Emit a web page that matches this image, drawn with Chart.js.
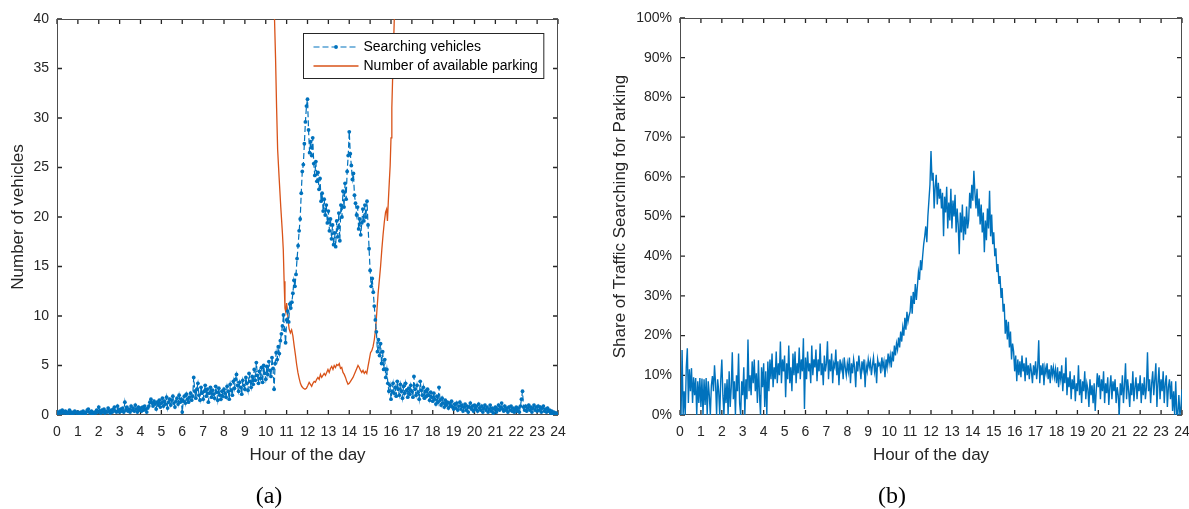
<!DOCTYPE html>
<html>
<head>
<meta charset="utf-8">
<script src="https://cdn.jsdelivr.net/npm/chart.js@4/dist/chart.umd.min.js"></script>
<style>
  html, body { margin: 0; padding: 0; background: #fff; width: 1189px; height: 509px; overflow: hidden; position: relative; }
  canvas { position: absolute; top: 0; }
  #left { left: 0; }
  #right { left: 594px; }
  .cap { position: absolute; width: 80px; text-align: center; font-family: "Liberation Serif", "Times New Roman", serif;
         font-size: 24px; line-height: 28px; color: #000; top: 481px; }
</style>
</head>
<body>
<canvas id="left" width="594" height="509"></canvas>
<canvas id="right" width="610" height="509"></canvas>
<div class="cap" style="left:229px">(a)</div>
<div class="cap" style="left:852px">(b)</div>
<script>
// Samples are taken every 3 minutes over one day (0 h .. 24 h).
const SAMPLE_STEP = 0.05;

const hourTicks = [0,1,2,3,4,5,6,7,8,9,10,11,12,13,14,15,16,17,18,19,20,21,22,23,24];
const vehicleTicks = [0,5,10,15,20,25,30,35,40];
const shareTicks = [0,10,20,30,40,50,60,70,80,90,100];

// Vehicles cruising for a parking space, one value per sample.
const searchingVehicles = [
  0.1,0.3,0.2,0.4,0.2,0.5,0.3,0.2,0.4,0.3,0.1,0.3,0.5,0.2,0.3,0.1,0.2,0.4,0.3,0.2,
  0.3,0.2,0.1,0.3,0.2,0.4,0.2,0.1,0.3,0.5,0.6,0.3,0.2,0.4,0.1,0.2,0.3,0.2,0.5,0.3,
  0.8,0.4,0.2,0.5,0.3,0.6,0.2,0.4,0.3,0.7,0.4,0.2,0.5,0.3,0.6,0.8,0.4,0.3,0.9,0.5,
  0.3,0.6,0.4,0.7,0.3,1.3,0.5,0.8,0.4,0.6,0.3,0.9,0.5,0.7,0.4,1.0,0.6,0.3,0.8,0.5,
  0.7,0.4,0.8,0.5,0.9,0.6,0.3,0.7,0.9,1.3,1.6,1.2,0.9,1.4,1.1,0.6,1.3,1.0,1.5,0.8,
  1.2,1.7,0.9,1.4,1.1,1.8,0.7,1.3,1.6,1.0,1.5,1.9,1.2,0.8,1.4,1.7,1.1,2.0,1.3,1.6,
  0.3,1.4,1.9,1.2,2.1,1.6,1.3,1.8,2.2,1.5,1.9,3.8,2.4,1.7,2.6,3.2,2.0,1.5,2.8,2.2,
  1.6,2.4,3.0,1.9,2.6,1.3,2.2,2.8,1.8,2.5,2.1,1.7,2.9,2.3,1.5,2.7,2.0,1.6,2.4,1.9,
  2.6,2.2,1.8,2.9,2.4,1.6,3.1,2.5,2.0,3.4,2.7,3.6,4.1,3.0,2.4,3.3,2.8,2.1,3.5,3.0,
  2.6,3.8,3.2,2.5,4.2,3.4,2.8,3.9,3.1,4.6,3.5,5.3,4.0,3.2,4.4,3.7,4.8,3.3,5.0,4.2,
  3.6,4.9,4.1,5.4,4.5,3.9,5.8,4.7,2.6,5.2,6.3,5.6,6.9,6.2,7.5,8.2,9.0,10.1,8.6,7.3,
  9.6,10.5,9.4,11.2,10.8,11.4,12.3,13.6,13.0,14.2,15.8,17.1,18.6,19.8,22.4,24.6,25.3,27.4,29.6,31.2,
  31.9,28.8,26.5,27.6,26.2,28.0,25.4,24.2,25.6,23.6,24.5,22.8,23.9,21.6,22.4,20.6,21.8,20.2,21.2,19.4,
  20.6,18.6,19.8,17.8,19.2,17.2,18.4,17.0,19.6,18.0,20.4,17.6,21.2,20.0,22.6,21.0,23.4,21.8,24.6,26.2,
  28.6,26.4,25.2,23.8,24.4,22.2,21.4,20.2,21.0,18.8,19.8,18.2,19.4,20.8,19.6,21.2,20.0,21.6,19.2,16.8,
  14.6,13.0,13.8,12.4,11.0,9.6,8.4,6.4,7.6,6.0,7.2,5.2,6.4,4.6,5.6,3.8,4.6,3.2,2.4,3.0,
  1.6,2.4,3.2,2.2,2.8,1.9,3.4,2.6,2.0,3.1,2.4,1.7,2.9,2.2,3.2,2.5,1.8,2.7,2.1,3.0,
  2.4,1.8,3.9,2.6,2.0,3.0,2.3,1.6,3.4,2.5,2.0,2.8,1.7,2.4,1.9,2.6,2.0,1.5,2.3,1.8,
  1.4,2.2,1.6,1.1,1.9,1.3,2.8,1.5,1.0,1.7,1.2,0.8,1.5,1.0,1.3,0.7,1.2,0.9,1.4,0.8,
  0.6,1.1,0.7,1.2,0.5,0.9,1.3,0.6,1.0,0.4,0.8,1.1,0.5,0.9,0.3,0.8,1.2,0.6,0.9,0.4,
  1.0,0.6,0.9,0.4,1.1,0.7,0.5,0.9,0.3,0.7,1.0,0.5,0.8,0.3,0.6,1.0,0.4,0.7,0.2,0.6,
  0.8,0.3,0.6,1.0,0.5,0.8,1.2,0.6,0.4,0.9,0.5,0.7,0.3,0.8,0.5,0.9,0.4,0.7,0.3,0.6,
  0.8,0.4,0.7,0.3,0.9,1.6,2.4,0.8,0.5,0.9,0.4,0.7,1.0,0.5,0.8,0.3,0.7,1.0,0.5,0.8,
  0.4,0.9,0.5,0.8,0.3,0.7,0.9,0.4,0.6,0.3,0.7,0.4,0.5,0.2,0.4,0.1,0.3,0.1,0.2,0.1,
  0.0
];

// Free parking spaces around the midday shortage (values above 40 leave the axes).
const parkingHours = [
  10.30,10.36,10.42,10.47,10.52,10.57,10.64,10.72,10.80,10.84,10.88,10.92,10.96,11.00,11.04,11.08,
  11.12,11.18,11.24,11.30,11.36,11.42,11.48,11.54,11.60,11.66,11.72,11.80,11.88,11.95,12.02,12.08,
  12.14,12.20,12.26,12.32,12.38,12.44,12.50,12.56,12.62,12.68,12.74,12.80,12.86,12.92,12.98,13.04,
  13.10,13.16,13.22,13.28,13.34,13.40,13.46,13.52,13.58,13.64,13.70,13.76,13.82,13.88,13.94,14.00,
  14.06,14.12,14.18,14.24,14.30,14.36,14.42,14.48,14.54,14.60,14.66,14.72,14.78,14.84,14.90,14.96,
  15.02,15.08,15.14,15.20,15.26,15.32,15.38,15.44,15.50,15.56,15.62,15.68,15.74,15.79,15.83,15.87,
  15.92,15.96,16.00,16.04,16.08,16.12,16.16,16.22
];
const parkingAvailable = [
  47,42,40,36,31,26.8,24,21,18.3,16.7,13.5,10.8,10.4,11.3,10.4,9.4,
  8.7,8.3,8.6,8.0,7.0,6.1,5.1,4.3,3.7,3.2,2.9,2.7,2.6,2.7,3.0,3.3,
  3.1,2.9,3.2,3.4,3.3,3.6,3.8,3.6,4.1,3.8,4.0,4.2,4.0,4.3,4.6,4.3,
  4.7,4.9,4.6,5.0,4.8,5.1,5.0,5.2,4.7,4.8,4.3,4.1,3.8,3.4,3.1,3.2,
  3.4,3.6,3.8,4.1,4.4,4.7,5.0,4.8,4.5,4.3,4.5,4.2,4.4,4.2,4.9,5.6,
  6.3,6.5,6.9,7.6,8.6,10.4,12.2,13.6,15.0,16.7,18.2,19.5,20.5,20.8,19.6,21.5,
  23.6,25.2,28.0,31.0,34.2,37.2,40.2,45
];

// Share of all traffic that is searching for parking, in percent.
const searchShare = [
  0,0,16.4,0,6,0,12,16.8,3,11.5,6,11.8,3,9.5,5,9.3,0,8.5,3,9.3,
  2,9.2,0,9,2.5,9.3,0,8.5,5,0,7.5,9.8,6,12.5,8,0,9,6,0,9,
  14,5,0,8,3,9,0,11,2,7,15.8,4,8.5,0,10,6,15.5,3,0,8.5,
  5,12,0,9,4,19,6,10,5,13.5,8,14,6,10.5,3,13.8,5,0,12,7,
  13,2,11,0,13.5,6,14,9,15.5,7,12,9,16,8,13,10,18.5,8,14,11,
  15,4.5,13,9,17.5,8,12,6,15.5,10,16,8,13,10.5,17,9,14,11,19.3,1.5,
  14.5,9,16,11,13,8,17.5,10,14,12,16.5,8.5,14,11,18,10,13,7.5,15,11,
  13,18.6,9,14,11,15.5,8,13,12,16.5,10,13.5,7.5,14,11.5,13,9,14.5,12,10,
  13,11,14.5,8,13,10.5,14,12,7,13.5,11,15,12,9,13.5,11.5,14,7,12.5,11,
  14,12,13.5,10,12.5,14.5,11,13,8,14,12.5,13,10.5,14.5,12,13.5,9.5,14,12,15.5,
  13,15,12,16,13.5,17.5,15,18,16.5,19.5,17,21,18.5,22,20,24.5,21.5,26,23.5,25,
  26,30,25.5,31,28,33,29,32.5,36,34,39,36.5,40,43,45,47.5,43.5,50,54,58,
  66.5,59,61,52,57.5,60.5,53,58.5,54.5,57,52,56,45,55,51,57.5,47,53.5,49,57,
  47,54,50,55.5,46,52,48,40.5,51,46,53,44,50,45.5,52.5,47,49,56,52,58,
  54,61.5,56,52,57,50,54.5,48,53,46,51,41,49,44,52,47,56.5,45,50.5,43,
  46,40,42,36,38,33,35,29.5,32,26,28,20.5,24,19,23.5,17,21,14,18,16,
  11,15,8.5,14,10,13.5,9.5,15,11,13,8.5,14.5,10,12.5,9,13,11,8,12.5,10,
  13.5,9,12,18.8,8,12.5,10,13,7.5,12,10.5,13,9,11.5,8,12.5,10,12,9.5,11.5,
  8,12,7,11,9,12.5,6,10.5,8,14.5,5,9.5,7,11,4,9,6.5,10,3.5,8,
  6,12.5,5,9,3,8.5,6,11,4,8,6.5,2,9,5,7.5,3,8,1,6,10.5,
  7,10,4,9,6,11,3,8,5.5,9.5,2.5,7,10,4,8.5,6,9,3,7,5,
  0,8,5,10,3,7.5,13,4,9,6,2,8,5,11,3.5,7,9.5,4,8,6,
  10,3,8,5,9.5,4,7,15.8,6,9,3,8,11,5,9,13,2,8,12,4,
  9,6,11,3,8,10,2,7,9,4,8.5,1,6,0,8.5,0,0,5,0,2,
  6.5
];

const FONT = '"Liberation Sans", Arial, Helvetica, sans-serif';
const INK = '#262626';
const BLUE = '#0072BD';
const ORANGE = '#D95319';

const onClock = values => values.map((v, i) => ({ x: +(i * SAMPLE_STEP).toFixed(2), y: v }));
const paired = (xs, ys) => xs.map((x, i) => ({ x, y: ys[i] }));

// Box around the axes with inward tick marks on all four sides.
const axesFrame = {
  id: 'axesFrame',
  beforeDatasetsDraw(chart) {
    const { ctx, chartArea: a, scales: { x, y } } = chart;
    ctx.save();
    ctx.strokeStyle = INK;
    ctx.lineWidth = 1.3;
    ctx.beginPath();
    x.ticks.forEach(t => {
      const px = x.getPixelForValue(t.value);
      ctx.moveTo(px, a.bottom); ctx.lineTo(px, a.bottom - 5);
      ctx.moveTo(px, a.top); ctx.lineTo(px, a.top + 5);
    });
    y.ticks.forEach(t => {
      const py = y.getPixelForValue(t.value);
      ctx.moveTo(a.left, py); ctx.lineTo(a.left + 5, py);
      ctx.moveTo(a.right, py); ctx.lineTo(a.right - 5, py);
    });
    ctx.stroke();
    ctx.lineWidth = 1;
    ctx.strokeStyle = '#4d4d4d';
    ctx.strokeRect(a.left + 0.5, a.top + 0.5, a.right - a.left - 1, a.bottom - a.top - 1);
    ctx.restore();
  }
};

// Legend drawn inside the upper right corner of the axes.
const insideLegend = {
  id: 'insideLegend',
  afterDraw(chart) {
    const { ctx, chartArea: a } = chart;
    const sets = chart.data.datasets;
    ctx.save();
    ctx.font = '14px ' + FONT;
    const textW = Math.max(...sets.map(d => ctx.measureText(d.label).width));
    const sample = 45, pad = 10, gap = 5;
    const w = pad + sample + gap + textW + 6;
    const h = 45;
    const bx = Math.round(a.right - 15 - w) + 0.5, by = Math.round(a.top + 14) + 0.5;
    ctx.fillStyle = '#fff';
    ctx.fillRect(bx, by, w, h);
    ctx.strokeStyle = INK;
    ctx.lineWidth = 1;
    ctx.strokeRect(bx, by, w, h);
    sets.forEach((d, i) => {
      const ry = by + 13.5 + i * 19;
      ctx.strokeStyle = d.borderColor;
      ctx.lineWidth = d.borderWidth;
      ctx.setLineDash(d.borderDash || []);
      ctx.beginPath();
      ctx.moveTo(bx + pad, ry); ctx.lineTo(bx + pad + sample, ry);
      ctx.stroke();
      ctx.setLineDash([]);
      if (d.pointRadius > 0) {
        ctx.fillStyle = d.pointBackgroundColor;
        ctx.beginPath();
        ctx.arc(bx + pad + sample / 2, ry, d.pointRadius, 0, Math.PI * 2);
        ctx.fill();
      }
      ctx.fillStyle = '#000';
      ctx.textBaseline = 'middle';
      ctx.textAlign = 'left';
      ctx.fillText(d.label, bx + pad + sample + gap, ry + 0.5);
    });
    ctx.restore();
  }
};

function axisOptions(ticks, yLabel, yTickText, yWidth, yTitlePad, yMax) {
  return {
    x: {
      type: 'linear', min: 0, max: 24, position: 'bottom',
      afterBuildTicks: s => { s.ticks = hourTicks.map(v => ({ value: v })); },
      afterFit: s => { s.height = 60; },
      grid: { display: false, drawTicks: false },
      border: { display: false },
      ticks: { autoSkip: false, maxRotation: 0, minRotation: 0, padding: 9, color: INK,
               font: { family: FONT, size: 14 }, callback: v => String(v) },
      title: { display: true, text: 'Hour of the day', color: INK,
               font: { family: FONT, size: 17 }, padding: { top: 0, bottom: 9 } }
    },
    y: {
      type: 'linear', min: 0, max: yMax, position: 'left',
      afterBuildTicks: s => { s.ticks = ticks.map(v => ({ value: v })); },
      afterFit: s => { s.width = yWidth; },
      grid: { display: false, drawTicks: false },
      border: { display: false },
      ticks: { padding: 8, color: INK, font: { family: FONT, size: 14 }, callback: yTickText },
      title: { display: true, text: yLabel, color: INK,
               font: { family: FONT, size: 17 }, padding: { top: yTitlePad, bottom: 0 } }
    }
  };
}

const common = {
  responsive: false, animation: false, devicePixelRatio: 1, events: [],
  plugins: { legend: { display: false }, tooltip: { enabled: false } }
};

new Chart(document.getElementById('left'), {
  type: 'line',
  data: {
    datasets: [
      { label: 'Searching vehicles', data: onClock(searchingVehicles),
        borderColor: BLUE, borderWidth: 1.2, borderDash: [6, 3], tension: 0,
        pointRadius: 1.9, pointBorderWidth: 0, pointBackgroundColor: BLUE },
      { label: 'Number of available parking', data: paired(parkingHours, parkingAvailable),
        borderColor: ORANGE, borderWidth: 1.3, tension: 0, pointRadius: 0 }
    ]
  },
  options: Object.assign({}, common, {
    layout: { padding: { left: 0, right: 36, top: 19, bottom: 34 } },
    scales: axisOptions(vehicleTicks, 'Number of vehicles', v => String(v), 57, 8, 40)
  }),
  plugins: [axesFrame, insideLegend]
});

new Chart(document.getElementById('right'), {
  type: 'line',
  data: {
    datasets: [
      { label: 'Share of traffic searching for parking', data: onClock(searchShare),
        borderColor: BLUE, borderWidth: 1.4, tension: 0, pointRadius: 0 }
    ]
  },
  options: Object.assign({}, common, {
    layout: { padding: { left: 0, right: 22, top: 18, bottom: 34 } },
    scales: axisOptions(shareTicks, 'Share of Traffic Searching for Parking', v => v + '%', 86, 16, 100)
  }),
  plugins: [axesFrame]
});
</script>
</body>
</html>
